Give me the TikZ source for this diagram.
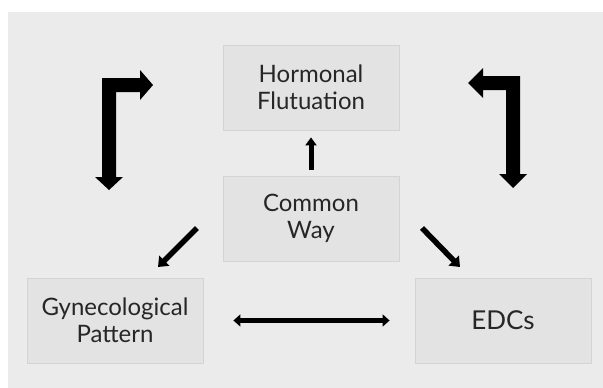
\documentclass[tikz,border=0pt]{standalone}
\usepackage{fontspec}
\setmainfont{Lato}
\usetikzlibrary{arrows.meta}
\definecolor{bgc}{HTML}{EBEBEB}
\definecolor{boxc}{HTML}{E3E3E3}
\definecolor{boxd}{HTML}{D4D4D4}
\definecolor{txt}{HTML}{262626}
\tikzset{
  box/.style={draw=boxd, line width=0.8pt, fill=boxc, minimum width=176pt, minimum height=85pt,
    inner sep=0pt, align=center, text=txt, font=\fontsize{24}{27}\selectfont},
  thin arrow/.style={draw=black, line width=5.5pt, -{Triangle[width=14pt,length=9pt]}},
  dbl arrow/.style={draw=black, line width=5pt, {Triangle[width=12pt,length=7pt]}-{Triangle[width=12pt,length=7pt]}},
  bigl/.style={fill=black, draw=none}
}
\begin{document}
\begin{tikzpicture}[x=1pt,y=-1pt]
\useasboundingbox (0,0) rectangle (603,388);
\fill[bgc] (8,12) rectangle (603,388);
\node[box] (hf) at (311,87.5) {Hormonal\\Flutuation};
\node[box] (cw) at (311,218.5) {Common\\Way};
\node[box] (gp) at (115,320.5) {Gynecological\\Pattern};
\node[box, font=\fontsize{26}{30}\selectfont] (edc) at (503,320.5) {EDCs};
% up arrow
\draw[thin arrow, line width=5pt, -{Triangle[width=11pt,length=8pt]}, shorten <=6pt, shorten >=7pt] (cw.north) -- (hf.south);
% diagonals
\coordinate (l1) at (197,228); \coordinate (l2) at (158,267);
\coordinate (r1) at (422,228); \coordinate (r2) at (460,267);
\draw[thin arrow] (l1) -- (l2);
\draw[thin arrow] (r1) -- (r2);
% horizontal double arrow
\draw[dbl arrow, shorten <=30pt, shorten >=25pt] (gp.east) -- (edc.west);
% left L arrow
\coordinate (la) at (153,85); \coordinate (lb) at (109,190);
\fill[bigl] (102,177) -- (102,78) -- (140,78) -- (140,70) -- (la) -- (140,100) -- (140,92)
  -- (116,92) -- (116,177) -- (123,177) -- (lb) -- (95,177) -- cycle;
% right L arrow
\coordinate (ra) at (468,83); \coordinate (rb) at (513,188);
\fill[bigl] (520,174) -- (520,76) -- (483,76) -- (483,68) -- (ra) -- (483,98) -- (483,90)
  -- (506,90) -- (506,174) -- (499,174) -- (rb) -- (527,174) -- cycle;
\end{tikzpicture}
\end{document}
